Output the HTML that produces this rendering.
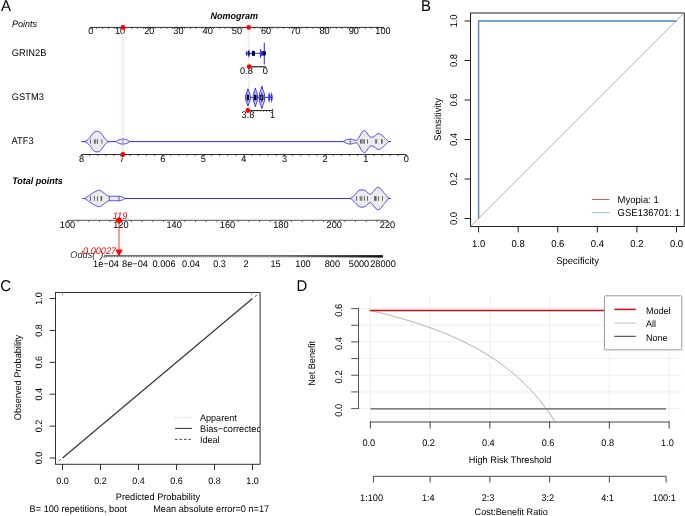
<!DOCTYPE html>
<html><head><meta charset="utf-8"><title>Figure</title>
<style>
html,body{margin:0;padding:0;background:#fff;width:685px;height:516px;overflow:hidden;}
svg{display:block;}
text{font-family:"Liberation Sans",sans-serif;text-rendering:geometricPrecision;}
</style></head><body>
<svg width="685" height="516" viewBox="0 0 685 516">
<g style="will-change:transform">
<rect width="685" height="516" fill="#fff"/>
<text fill="#000" font-size="15" transform="translate(0.9 11) scale(1 1.04)">A</text>
<text font-style="italic" font-weight="bold" fill="#000" font-size="9" transform="translate(210.6 19.3) scale(1 1.04)">Nomogram</text>
<text font-style="italic" font-size="9" transform="translate(12 26.9) scale(1 1.04)">Points</text>
<line x1="90.8" y1="27.4" x2="383" y2="27.4" stroke="#1a1a1a" stroke-width="0.9"/>
<line x1="90.8" y1="27.4" x2="90.8" y2="29.2" stroke="#333" stroke-width="0.8"/>
<line x1="96.64" y1="27.4" x2="96.64" y2="28.9" stroke="#333" stroke-width="0.8"/>
<line x1="102.49" y1="27.4" x2="102.49" y2="28.9" stroke="#333" stroke-width="0.8"/>
<line x1="108.33" y1="27.4" x2="108.33" y2="28.9" stroke="#333" stroke-width="0.8"/>
<line x1="114.18" y1="27.4" x2="114.18" y2="28.9" stroke="#333" stroke-width="0.8"/>
<line x1="120.02" y1="27.4" x2="120.02" y2="29.2" stroke="#333" stroke-width="0.8"/>
<line x1="125.86" y1="27.4" x2="125.86" y2="28.9" stroke="#333" stroke-width="0.8"/>
<line x1="131.71" y1="27.4" x2="131.71" y2="28.9" stroke="#333" stroke-width="0.8"/>
<line x1="137.55" y1="27.4" x2="137.55" y2="28.9" stroke="#333" stroke-width="0.8"/>
<line x1="143.4" y1="27.4" x2="143.4" y2="28.9" stroke="#333" stroke-width="0.8"/>
<line x1="149.24" y1="27.4" x2="149.24" y2="29.2" stroke="#333" stroke-width="0.8"/>
<line x1="155.08" y1="27.4" x2="155.08" y2="28.9" stroke="#333" stroke-width="0.8"/>
<line x1="160.93" y1="27.4" x2="160.93" y2="28.9" stroke="#333" stroke-width="0.8"/>
<line x1="166.77" y1="27.4" x2="166.77" y2="28.9" stroke="#333" stroke-width="0.8"/>
<line x1="172.62" y1="27.4" x2="172.62" y2="28.9" stroke="#333" stroke-width="0.8"/>
<line x1="178.46" y1="27.4" x2="178.46" y2="29.2" stroke="#333" stroke-width="0.8"/>
<line x1="184.3" y1="27.4" x2="184.3" y2="28.9" stroke="#333" stroke-width="0.8"/>
<line x1="190.15" y1="27.4" x2="190.15" y2="28.9" stroke="#333" stroke-width="0.8"/>
<line x1="195.99" y1="27.4" x2="195.99" y2="28.9" stroke="#333" stroke-width="0.8"/>
<line x1="201.84" y1="27.4" x2="201.84" y2="28.9" stroke="#333" stroke-width="0.8"/>
<line x1="207.68" y1="27.4" x2="207.68" y2="29.2" stroke="#333" stroke-width="0.8"/>
<line x1="213.52" y1="27.4" x2="213.52" y2="28.9" stroke="#333" stroke-width="0.8"/>
<line x1="219.37" y1="27.4" x2="219.37" y2="28.9" stroke="#333" stroke-width="0.8"/>
<line x1="225.21" y1="27.4" x2="225.21" y2="28.9" stroke="#333" stroke-width="0.8"/>
<line x1="231.06" y1="27.4" x2="231.06" y2="28.9" stroke="#333" stroke-width="0.8"/>
<line x1="236.9" y1="27.4" x2="236.9" y2="29.2" stroke="#333" stroke-width="0.8"/>
<line x1="242.74" y1="27.4" x2="242.74" y2="28.9" stroke="#333" stroke-width="0.8"/>
<line x1="248.59" y1="27.4" x2="248.59" y2="28.9" stroke="#333" stroke-width="0.8"/>
<line x1="254.43" y1="27.4" x2="254.43" y2="28.9" stroke="#333" stroke-width="0.8"/>
<line x1="260.28" y1="27.4" x2="260.28" y2="28.9" stroke="#333" stroke-width="0.8"/>
<line x1="266.12" y1="27.4" x2="266.12" y2="29.2" stroke="#333" stroke-width="0.8"/>
<line x1="271.96" y1="27.4" x2="271.96" y2="28.9" stroke="#333" stroke-width="0.8"/>
<line x1="277.81" y1="27.4" x2="277.81" y2="28.9" stroke="#333" stroke-width="0.8"/>
<line x1="283.65" y1="27.4" x2="283.65" y2="28.9" stroke="#333" stroke-width="0.8"/>
<line x1="289.5" y1="27.4" x2="289.5" y2="28.9" stroke="#333" stroke-width="0.8"/>
<line x1="295.34" y1="27.4" x2="295.34" y2="29.2" stroke="#333" stroke-width="0.8"/>
<line x1="301.18" y1="27.4" x2="301.18" y2="28.9" stroke="#333" stroke-width="0.8"/>
<line x1="307.03" y1="27.4" x2="307.03" y2="28.9" stroke="#333" stroke-width="0.8"/>
<line x1="312.87" y1="27.4" x2="312.87" y2="28.9" stroke="#333" stroke-width="0.8"/>
<line x1="318.72" y1="27.4" x2="318.72" y2="28.9" stroke="#333" stroke-width="0.8"/>
<line x1="324.56" y1="27.4" x2="324.56" y2="29.2" stroke="#333" stroke-width="0.8"/>
<line x1="330.4" y1="27.4" x2="330.4" y2="28.9" stroke="#333" stroke-width="0.8"/>
<line x1="336.25" y1="27.4" x2="336.25" y2="28.9" stroke="#333" stroke-width="0.8"/>
<line x1="342.09" y1="27.4" x2="342.09" y2="28.9" stroke="#333" stroke-width="0.8"/>
<line x1="347.94" y1="27.4" x2="347.94" y2="28.9" stroke="#333" stroke-width="0.8"/>
<line x1="353.78" y1="27.4" x2="353.78" y2="29.2" stroke="#333" stroke-width="0.8"/>
<line x1="359.62" y1="27.4" x2="359.62" y2="28.9" stroke="#333" stroke-width="0.8"/>
<line x1="365.47" y1="27.4" x2="365.47" y2="28.9" stroke="#333" stroke-width="0.8"/>
<line x1="371.31" y1="27.4" x2="371.31" y2="28.9" stroke="#333" stroke-width="0.8"/>
<line x1="377.16" y1="27.4" x2="377.16" y2="28.9" stroke="#333" stroke-width="0.8"/>
<line x1="383" y1="27.4" x2="383" y2="29.2" stroke="#333" stroke-width="0.8"/>
<text text-anchor="middle" font-size="9.2" transform="translate(90.8 34.3) scale(1 1.04)">0</text>
<text text-anchor="middle" font-size="9.2" transform="translate(120.02 34.3) scale(1 1.04)">10</text>
<text text-anchor="middle" font-size="9.2" transform="translate(149.24 34.3) scale(1 1.04)">20</text>
<text text-anchor="middle" font-size="9.2" transform="translate(178.46 34.3) scale(1 1.04)">30</text>
<text text-anchor="middle" font-size="9.2" transform="translate(207.68 34.3) scale(1 1.04)">40</text>
<text text-anchor="middle" font-size="9.2" transform="translate(236.9 34.3) scale(1 1.04)">50</text>
<text text-anchor="middle" font-size="9.2" transform="translate(266.12 34.3) scale(1 1.04)">60</text>
<text text-anchor="middle" font-size="9.2" transform="translate(295.34 34.3) scale(1 1.04)">70</text>
<text text-anchor="middle" font-size="9.2" transform="translate(324.56 34.3) scale(1 1.04)">80</text>
<text text-anchor="middle" font-size="9.2" transform="translate(353.78 34.3) scale(1 1.04)">90</text>
<text text-anchor="middle" font-size="9.2" transform="translate(383 34.3) scale(1 1.04)">100</text>
<line x1="122.9" y1="29" x2="122.9" y2="152" stroke="#ffcccc" stroke-width="1.5" stroke-dasharray="1,1"/>
<line x1="248.5" y1="29" x2="248.5" y2="108.5" stroke="#ffcccc" stroke-width="1.5" stroke-dasharray="1,1"/>
<text font-size="9.3" transform="translate(11.8 56) scale(1 1.04)">GRIN2B</text>
<line x1="246" y1="53.4" x2="265.8" y2="53.4" stroke="#3232ff" stroke-width="1"/>
<ellipse cx="246.6" cy="53.4" rx="0.9" ry="2.3" fill="#3232ff"/>
<path d="M248.8,49.4 C249.5,51 250,52 250,53.4 C250,54.8 249.5,55.8 248.8,57.6 C248.1,55.8 247.6,54.8 247.6,53.4 C247.6,52 248.1,51 248.8,49.4 Z" fill="#3232ff"/>
<line x1="248.5" y1="51.4" x2="248.5" y2="55.4" stroke="#111" stroke-width="0.8"/>
<line x1="249.3" y1="51.8" x2="249.3" y2="55" stroke="#222" stroke-width="0.6"/>
<rect x="251.9" y="50.8" width="3.1" height="5.1" rx="1.2" fill="#0a0a8a"/>
<line x1="252.6" y1="51.2" x2="252.6" y2="55.6" stroke="#000" stroke-width="0.7"/>
<line x1="254.2" y1="51.2" x2="254.2" y2="55.6" stroke="#000" stroke-width="0.7"/>
<line x1="260.4" y1="49.1" x2="260.4" y2="58" stroke="#3232ff" stroke-width="1"/>
<polygon points="260.4,50.6 263,51.2 263,55.6 260.4,56.4" fill="#3232ff"/>
<rect x="262.8" y="50.8" width="3.1" height="5.0" rx="1.5" fill="#050505"/>
<line x1="264.3" y1="42.8" x2="264.3" y2="64.4" stroke="#3232ff" stroke-width="1.1"/>
<rect x="263.6" y="51.6" width="1.4" height="3.6" fill="#000"/>
<line x1="248.6" y1="66.6" x2="265.4" y2="66.6" stroke="#1a1a1a" stroke-width="0.9"/>
<line x1="248.6" y1="66.6" x2="248.6" y2="67.8" stroke="#333" stroke-width="0.8"/>
<line x1="250.7" y1="66.6" x2="250.7" y2="67.8" stroke="#333" stroke-width="0.8"/>
<line x1="252.8" y1="66.6" x2="252.8" y2="67.8" stroke="#333" stroke-width="0.8"/>
<line x1="254.9" y1="66.6" x2="254.9" y2="67.8" stroke="#333" stroke-width="0.8"/>
<line x1="257" y1="66.6" x2="257" y2="67.8" stroke="#333" stroke-width="0.8"/>
<line x1="259.1" y1="66.6" x2="259.1" y2="67.8" stroke="#333" stroke-width="0.8"/>
<line x1="261.2" y1="66.6" x2="261.2" y2="67.8" stroke="#333" stroke-width="0.8"/>
<line x1="263.3" y1="66.6" x2="263.3" y2="67.8" stroke="#333" stroke-width="0.8"/>
<line x1="265.4" y1="66.6" x2="265.4" y2="67.8" stroke="#333" stroke-width="0.8"/>
<text text-anchor="middle" font-size="9.2" transform="translate(246.4 73.6) scale(1 1.04)">0.8</text>
<text text-anchor="middle" font-size="9.2" transform="translate(265.4 73.6) scale(1 1.04)">0</text>
<text font-size="9.3" transform="translate(11.8 100) scale(1 1.04)">GSTM3</text>
<line x1="245.3" y1="97.4" x2="272.8" y2="97.4" stroke="#3232ff" stroke-width="1"/>
<path d="M247.95,88.8 C248.81,92.67 250.4,93.1 250.4,97.4 C250.4,101.7 248.81,102.13 247.95,106 C247.09,102.13 245.5,101.7 245.5,97.4 C245.5,93.1 247.09,92.67 247.95,88.8 Z" fill="#d2d2ff" stroke="#3232ff" stroke-width="1"/>
<path d="M247.45,92.24 C247.71,94.56 248.19,94.82 248.19,97.4 C248.19,99.98 247.71,100.24 247.45,102.56 C247.19,100.24 246.71,99.98 246.71,97.4 C246.71,94.82 247.19,94.56 247.45,92.24 Z" fill="#3232ff" stroke="none" stroke-width="0"/>
<path d="M248.65,93.53 C248.86,95.27 249.26,95.47 249.26,97.4 C249.26,99.34 248.86,99.53 248.65,101.27 C248.44,99.53 248.04,99.34 248.04,97.4 C248.04,95.47 248.44,95.27 248.65,93.53 Z" fill="#3232ff" stroke="none" stroke-width="0"/>
<path d="M255.35,88 C256.1,92.23 257.5,92.7 257.5,97.4 C257.5,102.1 256.1,102.57 255.35,106.8 C254.6,102.57 253.2,102.1 253.2,97.4 C253.2,92.7 254.6,92.23 255.35,88 Z" fill="#d2d2ff" stroke="#3232ff" stroke-width="1"/>
<path d="M254.85,91.76 C255.08,94.3 255.5,94.58 255.5,97.4 C255.5,100.22 255.08,100.5 254.85,103.04 C254.62,100.5 254.2,100.22 254.2,97.4 C254.2,94.58 254.62,94.3 254.85,91.76 Z" fill="#3232ff" stroke="none" stroke-width="0"/>
<path d="M256.05,93.17 C256.24,95.07 256.59,95.29 256.59,97.4 C256.59,99.52 256.24,99.73 256.05,101.63 C255.86,99.73 255.51,99.52 255.51,97.4 C255.51,95.29 255.86,95.07 256.05,93.17 Z" fill="#3232ff" stroke="none" stroke-width="0"/>
<path d="M261.9,86.2 C262.88,91.24 264.7,91.8 264.7,97.4 C264.7,103 262.88,103.56 261.9,108.6 C260.92,103.56 259.1,103 259.1,97.4 C259.1,91.8 260.92,91.24 261.9,86.2 Z" fill="#d2d2ff" stroke="#3232ff" stroke-width="1"/>
<path d="M261.4,90.68 C261.69,93.7 262.24,94.04 262.24,97.4 C262.24,100.76 261.69,101.1 261.4,104.12 C261.11,101.1 260.56,100.76 260.56,97.4 C260.56,94.04 261.11,93.7 261.4,90.68 Z" fill="#3232ff" stroke="none" stroke-width="0"/>
<path d="M262.6,92.36 C262.84,94.63 263.3,94.88 263.3,97.4 C263.3,99.92 262.84,100.17 262.6,102.44 C262.35,100.17 261.9,99.92 261.9,97.4 C261.9,94.88 262.35,94.63 262.6,92.36 Z" fill="#3232ff" stroke="none" stroke-width="0"/>
<path d="M269.2,91.5 C269.57,94.16 270.25,94.45 270.25,97.4 C270.25,100.35 269.57,100.65 269.2,103.3 C268.83,100.65 268.15,100.35 268.15,97.4 C268.15,94.45 268.83,94.16 269.2,91.5 Z" fill="#3232ff" stroke="none" stroke-width="0"/>
<path d="M271.6,91.5 C271.97,94.16 272.65,94.45 272.65,97.4 C272.65,100.35 271.97,100.65 271.6,103.3 C271.23,100.65 270.55,100.35 270.55,97.4 C270.55,94.45 271.23,94.16 271.6,91.5 Z" fill="#3232ff" stroke="none" stroke-width="0"/>
<rect x="246.8" y="94.8" width="2.2" height="5.4" fill="#111"/>
<rect x="254.1" y="95.0" width="2.3" height="4.9" fill="#050505"/>
<rect x="259.6" y="95.0" width="3.8" height="4.9" fill="#1a1a1a"/>
<rect x="260.6" y="95.8" width="1.6" height="3.3" fill="#666"/>
<line x1="248" y1="110.5" x2="272.6" y2="110.5" stroke="#1a1a1a" stroke-width="0.9"/>
<line x1="248" y1="110.5" x2="248" y2="111.7" stroke="#333" stroke-width="0.8"/>
<line x1="251.07" y1="110.5" x2="251.07" y2="111.7" stroke="#333" stroke-width="0.8"/>
<line x1="254.15" y1="110.5" x2="254.15" y2="111.7" stroke="#333" stroke-width="0.8"/>
<line x1="257.23" y1="110.5" x2="257.23" y2="111.7" stroke="#333" stroke-width="0.8"/>
<line x1="260.3" y1="110.5" x2="260.3" y2="111.7" stroke="#333" stroke-width="0.8"/>
<line x1="263.38" y1="110.5" x2="263.38" y2="111.7" stroke="#333" stroke-width="0.8"/>
<line x1="266.45" y1="110.5" x2="266.45" y2="111.7" stroke="#333" stroke-width="0.8"/>
<line x1="269.53" y1="110.5" x2="269.53" y2="111.7" stroke="#333" stroke-width="0.8"/>
<line x1="272.6" y1="110.5" x2="272.6" y2="111.7" stroke="#333" stroke-width="0.8"/>
<line x1="272.6" y1="108.8" x2="272.6" y2="110.5" stroke="#1a1a1a" stroke-width="0.8"/>
<text text-anchor="middle" font-size="9.2" transform="translate(248 117.6) scale(1 1.04)">3.8</text>
<text text-anchor="middle" font-size="9.2" transform="translate(272.6 117.6) scale(1 1.04)">1</text>
<text font-size="9.3" transform="translate(11.6 144.2) scale(1 1.04)">ATF3</text>
<line x1="81.3" y1="141.6" x2="391" y2="141.6" stroke="#3232ff" stroke-width="1"/>
<polygon points="84,141.6 84.33,141.53 84.66,141.44 84.99,141.32 85.32,141.19 85.66,141.04 85.99,140.87 86.32,140.69 86.65,140.51 86.98,140.31 87.31,140.1 87.64,139.84 87.97,139.56 88.31,139.25 88.64,138.91 88.97,138.56 89.3,138.2 89.63,137.82 89.96,137.44 90.29,137.04 90.62,136.58 90.95,136.09 91.29,135.57 91.62,135.05 91.95,134.54 92.28,134.06 92.61,133.63 92.94,133.26 93.27,132.94 93.6,132.63 93.94,132.34 94.27,132.09 94.6,131.88 94.93,131.72 95.26,131.62 95.59,131.52 95.92,131.44 96.25,131.37 96.58,131.32 96.92,131.3 97.25,131.31 97.58,131.34 97.91,131.4 98.24,131.48 98.57,131.57 98.9,131.67 99.23,131.79 99.56,131.97 99.9,132.21 100.23,132.48 100.56,132.78 100.89,133.09 101.22,133.42 101.55,133.81 101.88,134.24 102.21,134.71 102.55,135.21 102.88,135.71 103.21,136.2 103.54,136.68 103.87,137.13 104.2,137.56 104.53,137.99 104.86,138.43 105.19,138.86 105.53,139.27 105.86,139.64 106.19,139.96 106.52,140.21 106.85,140.43 107.18,140.65 107.51,140.85 107.84,141.04 108.18,141.21 108.51,141.35 108.84,141.47 109.17,141.55 109.5,141.6 109.5,141.6 109.17,141.65 108.84,141.73 108.51,141.85 108.18,141.99 107.84,142.16 107.51,142.35 107.18,142.55 106.85,142.77 106.52,142.99 106.19,143.24 105.86,143.56 105.53,143.93 105.19,144.34 104.86,144.77 104.53,145.21 104.2,145.64 103.87,146.07 103.54,146.52 103.21,147 102.88,147.49 102.55,147.99 102.21,148.49 101.88,148.96 101.55,149.39 101.22,149.78 100.89,150.11 100.56,150.42 100.23,150.72 99.9,150.99 99.56,151.23 99.23,151.41 98.9,151.53 98.57,151.63 98.24,151.72 97.91,151.8 97.58,151.86 97.25,151.89 96.92,151.9 96.58,151.88 96.25,151.83 95.92,151.76 95.59,151.68 95.26,151.58 94.93,151.48 94.6,151.32 94.27,151.11 93.94,150.86 93.6,150.57 93.27,150.26 92.94,149.94 92.61,149.57 92.28,149.14 91.95,148.66 91.62,148.15 91.29,147.63 90.95,147.11 90.62,146.62 90.29,146.16 89.96,145.76 89.63,145.38 89.3,145 88.97,144.64 88.64,144.29 88.31,143.95 87.97,143.64 87.64,143.36 87.31,143.1 86.98,142.89 86.65,142.69 86.32,142.51 85.99,142.33 85.66,142.16 85.32,142.01 84.99,141.88 84.66,141.76 84.33,141.67 84,141.6" fill="#ebebeb" stroke="#3232ff" stroke-width="1" stroke-linejoin="round"/>
<polygon points="116.3,141.6 116.63,141.3 116.95,141 117.28,140.72 117.61,140.46 117.93,140.22 118.26,140.02 118.59,139.85 118.91,139.72 119.24,139.64 119.57,139.56 119.9,139.48 120.22,139.41 120.55,139.34 120.88,139.28 121.2,139.23 121.53,139.19 121.86,139.15 122.18,139.13 122.51,139.11 122.84,139.1 123.16,139.1 123.49,139.12 123.82,139.15 124.14,139.19 124.47,139.24 124.8,139.3 125.12,139.37 125.45,139.44 125.78,139.52 126.1,139.6 126.43,139.68 126.76,139.78 127.09,139.9 127.41,140.05 127.74,140.22 128.07,140.42 128.39,140.63 128.72,140.85 129.05,141.09 129.37,141.34 129.7,141.6 129.7,141.6 129.37,141.86 129.05,142.11 128.72,142.35 128.39,142.57 128.07,142.78 127.74,142.98 127.41,143.15 127.09,143.3 126.76,143.42 126.43,143.52 126.1,143.6 125.78,143.68 125.45,143.76 125.12,143.83 124.8,143.9 124.47,143.96 124.14,144.01 123.82,144.05 123.49,144.08 123.16,144.1 122.84,144.1 122.51,144.09 122.18,144.07 121.86,144.05 121.53,144.01 121.2,143.97 120.88,143.92 120.55,143.86 120.22,143.79 119.9,143.72 119.57,143.64 119.24,143.56 118.91,143.48 118.59,143.35 118.26,143.18 117.93,142.98 117.61,142.74 117.28,142.48 116.95,142.2 116.63,141.9 116.3,141.6" fill="#ebebeb" stroke="#3232ff" stroke-width="1" stroke-linejoin="round"/>
<polygon points="343.7,141.6 344.03,141.35 344.37,141.1 344.7,140.87 345.03,140.64 345.36,140.44 345.7,140.25 346.03,140.07 346.36,139.92 346.69,139.8 347.03,139.69 347.36,139.6 347.69,139.51 348.02,139.43 348.36,139.35 348.69,139.28 349.02,139.22 349.35,139.17 349.69,139.13 350.02,139.11 350.35,139.1 350.68,139.12 351.02,139.16 351.35,139.23 351.68,139.31 352.01,139.4 352.35,139.49 352.68,139.59 353.01,139.68 353.35,139.76 353.68,139.84 354.01,139.93 354.34,140.02 354.68,140.11 355.01,140.2 355.34,140.28 355.67,140.35 356.01,140.39 356.34,140.4 356.67,140.31 357,140.08 357.34,139.75 357.67,139.34 358,138.87 358.33,138.37 358.67,137.88 359,137.4 359.33,136.89 359.66,136.3 360,135.66 360.33,135 360.66,134.36 360.99,133.76 361.33,133.23 361.66,132.8 361.99,132.36 362.33,131.93 362.66,131.51 362.99,131.14 363.32,130.83 363.66,130.62 363.99,130.51 364.32,130.52 364.65,130.64 364.99,130.83 365.32,131.08 365.65,131.38 365.98,131.7 366.32,132.02 366.65,132.35 366.98,132.78 367.31,133.29 367.65,133.84 367.98,134.4 368.31,134.94 368.64,135.41 368.98,135.78 369.31,136.08 369.64,136.38 369.97,136.67 370.31,136.92 370.64,137.12 370.97,137.25 371.31,137.3 371.64,137.28 371.97,137.23 372.3,137.15 372.64,137.05 372.97,136.93 373.3,136.8 373.63,136.66 373.97,136.52 374.3,136.33 374.63,136.07 374.96,135.75 375.3,135.41 375.63,135.08 375.96,134.77 376.29,134.52 376.63,134.34 376.96,134.18 377.29,134.03 377.62,133.89 377.96,133.77 378.29,133.67 378.62,133.62 378.95,133.6 379.29,133.65 379.62,133.78 379.95,133.94 380.29,134.15 380.62,134.36 380.95,134.57 381.28,134.78 381.62,135.01 381.95,135.27 382.28,135.55 382.61,135.84 382.95,136.14 383.28,136.45 383.61,136.77 383.94,137.08 384.28,137.39 384.61,137.7 384.94,138.01 385.27,138.31 385.61,138.63 385.94,138.94 386.27,139.26 386.6,139.59 386.94,139.91 387.27,140.24 387.6,140.58 387.93,140.92 388.27,141.26 388.6,141.6 388.6,141.6 388.27,141.94 387.93,142.28 387.6,142.62 387.27,142.96 386.94,143.29 386.6,143.61 386.27,143.94 385.94,144.26 385.61,144.57 385.27,144.89 384.94,145.19 384.61,145.5 384.28,145.81 383.94,146.12 383.61,146.43 383.28,146.75 382.95,147.06 382.61,147.36 382.28,147.65 381.95,147.93 381.62,148.19 381.28,148.42 380.95,148.63 380.62,148.84 380.29,149.05 379.95,149.26 379.62,149.42 379.29,149.55 378.95,149.6 378.62,149.58 378.29,149.53 377.96,149.43 377.62,149.31 377.29,149.17 376.96,149.02 376.63,148.86 376.29,148.68 375.96,148.43 375.63,148.12 375.3,147.79 374.96,147.45 374.63,147.13 374.3,146.87 373.97,146.68 373.63,146.54 373.3,146.4 372.97,146.27 372.64,146.15 372.3,146.05 371.97,145.97 371.64,145.92 371.31,145.9 370.97,145.95 370.64,146.08 370.31,146.28 369.97,146.53 369.64,146.82 369.31,147.12 368.98,147.42 368.64,147.79 368.31,148.26 367.98,148.8 367.65,149.36 367.31,149.91 366.98,150.42 366.65,150.85 366.32,151.18 365.98,151.5 365.65,151.82 365.32,152.12 364.99,152.37 364.65,152.56 364.32,152.68 363.99,152.69 363.66,152.58 363.32,152.37 362.99,152.06 362.66,151.69 362.33,151.27 361.99,150.84 361.66,150.4 361.33,149.97 360.99,149.44 360.66,148.84 360.33,148.2 360,147.54 359.66,146.9 359.33,146.31 359,145.8 358.67,145.32 358.33,144.83 358,144.33 357.67,143.86 357.34,143.45 357,143.12 356.67,142.89 356.34,142.8 356.01,142.81 355.67,142.85 355.34,142.92 355.01,143 354.68,143.09 354.34,143.18 354.01,143.27 353.68,143.36 353.35,143.44 353.01,143.52 352.68,143.61 352.35,143.71 352.01,143.8 351.68,143.89 351.35,143.97 351.02,144.04 350.68,144.08 350.35,144.1 350.02,144.09 349.69,144.07 349.35,144.03 349.02,143.98 348.69,143.92 348.36,143.85 348.02,143.77 347.69,143.69 347.36,143.6 347.03,143.51 346.69,143.4 346.36,143.28 346.03,143.13 345.7,142.95 345.36,142.76 345.03,142.56 344.7,142.33 344.37,142.1 344.03,141.85 343.7,141.6" fill="#ebebeb" stroke="#3232ff" stroke-width="1" stroke-linejoin="round"/>
<line x1="122.9" y1="139.6" x2="122.9" y2="143.6" stroke="#999" stroke-width="1"/>
<line x1="90.5" y1="139.3" x2="90.5" y2="143.7" stroke="#444" stroke-width="0.8"/>
<line x1="94.4" y1="139.3" x2="94.4" y2="143.7" stroke="#444" stroke-width="0.8"/>
<line x1="95.7" y1="139.3" x2="95.7" y2="143.7" stroke="#444" stroke-width="0.8"/>
<line x1="97.5" y1="139.3" x2="97.5" y2="143.7" stroke="#444" stroke-width="0.8"/>
<line x1="101.9" y1="139.3" x2="101.9" y2="143.7" stroke="#444" stroke-width="0.8"/>
<line x1="350.3" y1="139.3" x2="350.3" y2="143.7" stroke="#444" stroke-width="0.8"/>
<line x1="360.5" y1="139.3" x2="360.5" y2="143.7" stroke="#444" stroke-width="0.8"/>
<line x1="361.8" y1="139.3" x2="361.8" y2="143.7" stroke="#444" stroke-width="0.8"/>
<line x1="363.1" y1="139.3" x2="363.1" y2="143.7" stroke="#444" stroke-width="0.8"/>
<line x1="364.4" y1="139.3" x2="364.4" y2="143.7" stroke="#444" stroke-width="0.8"/>
<line x1="367.5" y1="139.3" x2="367.5" y2="143.7" stroke="#444" stroke-width="0.8"/>
<line x1="375.7" y1="139.3" x2="375.7" y2="143.7" stroke="#444" stroke-width="0.8"/>
<line x1="376.7" y1="139.3" x2="376.7" y2="143.7" stroke="#444" stroke-width="0.8"/>
<line x1="381.5" y1="139.3" x2="381.5" y2="143.7" stroke="#444" stroke-width="0.8"/>
<line x1="382.2" y1="139.3" x2="382.2" y2="143.7" stroke="#444" stroke-width="0.8"/>
<line x1="81.5" y1="154.5" x2="406.3" y2="154.5" stroke="#1a1a1a" stroke-width="0.9"/>
<line x1="81.5" y1="154.5" x2="81.5" y2="156.4" stroke="#333" stroke-width="0.8"/>
<line x1="89.62" y1="154.5" x2="89.62" y2="156" stroke="#333" stroke-width="0.8"/>
<line x1="97.74" y1="154.5" x2="97.74" y2="156" stroke="#333" stroke-width="0.8"/>
<line x1="105.86" y1="154.5" x2="105.86" y2="156" stroke="#333" stroke-width="0.8"/>
<line x1="113.98" y1="154.5" x2="113.98" y2="156" stroke="#333" stroke-width="0.8"/>
<line x1="122.1" y1="154.5" x2="122.1" y2="156.4" stroke="#333" stroke-width="0.8"/>
<line x1="130.22" y1="154.5" x2="130.22" y2="156" stroke="#333" stroke-width="0.8"/>
<line x1="138.34" y1="154.5" x2="138.34" y2="156" stroke="#333" stroke-width="0.8"/>
<line x1="146.46" y1="154.5" x2="146.46" y2="156" stroke="#333" stroke-width="0.8"/>
<line x1="154.58" y1="154.5" x2="154.58" y2="156" stroke="#333" stroke-width="0.8"/>
<line x1="162.7" y1="154.5" x2="162.7" y2="156.4" stroke="#333" stroke-width="0.8"/>
<line x1="170.82" y1="154.5" x2="170.82" y2="156" stroke="#333" stroke-width="0.8"/>
<line x1="178.94" y1="154.5" x2="178.94" y2="156" stroke="#333" stroke-width="0.8"/>
<line x1="187.06" y1="154.5" x2="187.06" y2="156" stroke="#333" stroke-width="0.8"/>
<line x1="195.18" y1="154.5" x2="195.18" y2="156" stroke="#333" stroke-width="0.8"/>
<line x1="203.3" y1="154.5" x2="203.3" y2="156.4" stroke="#333" stroke-width="0.8"/>
<line x1="211.42" y1="154.5" x2="211.42" y2="156" stroke="#333" stroke-width="0.8"/>
<line x1="219.54" y1="154.5" x2="219.54" y2="156" stroke="#333" stroke-width="0.8"/>
<line x1="227.66" y1="154.5" x2="227.66" y2="156" stroke="#333" stroke-width="0.8"/>
<line x1="235.78" y1="154.5" x2="235.78" y2="156" stroke="#333" stroke-width="0.8"/>
<line x1="243.9" y1="154.5" x2="243.9" y2="156.4" stroke="#333" stroke-width="0.8"/>
<line x1="252.02" y1="154.5" x2="252.02" y2="156" stroke="#333" stroke-width="0.8"/>
<line x1="260.14" y1="154.5" x2="260.14" y2="156" stroke="#333" stroke-width="0.8"/>
<line x1="268.26" y1="154.5" x2="268.26" y2="156" stroke="#333" stroke-width="0.8"/>
<line x1="276.38" y1="154.5" x2="276.38" y2="156" stroke="#333" stroke-width="0.8"/>
<line x1="284.5" y1="154.5" x2="284.5" y2="156.4" stroke="#333" stroke-width="0.8"/>
<line x1="292.62" y1="154.5" x2="292.62" y2="156" stroke="#333" stroke-width="0.8"/>
<line x1="300.74" y1="154.5" x2="300.74" y2="156" stroke="#333" stroke-width="0.8"/>
<line x1="308.86" y1="154.5" x2="308.86" y2="156" stroke="#333" stroke-width="0.8"/>
<line x1="316.98" y1="154.5" x2="316.98" y2="156" stroke="#333" stroke-width="0.8"/>
<line x1="325.1" y1="154.5" x2="325.1" y2="156.4" stroke="#333" stroke-width="0.8"/>
<line x1="333.22" y1="154.5" x2="333.22" y2="156" stroke="#333" stroke-width="0.8"/>
<line x1="341.34" y1="154.5" x2="341.34" y2="156" stroke="#333" stroke-width="0.8"/>
<line x1="349.46" y1="154.5" x2="349.46" y2="156" stroke="#333" stroke-width="0.8"/>
<line x1="357.58" y1="154.5" x2="357.58" y2="156" stroke="#333" stroke-width="0.8"/>
<line x1="365.7" y1="154.5" x2="365.7" y2="156.4" stroke="#333" stroke-width="0.8"/>
<line x1="373.82" y1="154.5" x2="373.82" y2="156" stroke="#333" stroke-width="0.8"/>
<line x1="381.94" y1="154.5" x2="381.94" y2="156" stroke="#333" stroke-width="0.8"/>
<line x1="390.06" y1="154.5" x2="390.06" y2="156" stroke="#333" stroke-width="0.8"/>
<line x1="398.18" y1="154.5" x2="398.18" y2="156" stroke="#333" stroke-width="0.8"/>
<line x1="406.3" y1="154.5" x2="406.3" y2="156.4" stroke="#333" stroke-width="0.8"/>
<text text-anchor="middle" font-size="9.2" transform="translate(406.3 161.6) scale(1 1.04)">0</text>
<text text-anchor="middle" font-size="9.2" transform="translate(365.7 161.6) scale(1 1.04)">1</text>
<text text-anchor="middle" font-size="9.2" transform="translate(325.1 161.6) scale(1 1.04)">2</text>
<text text-anchor="middle" font-size="9.2" transform="translate(284.5 161.6) scale(1 1.04)">3</text>
<text text-anchor="middle" font-size="9.2" transform="translate(243.9 161.6) scale(1 1.04)">4</text>
<text text-anchor="middle" font-size="9.2" transform="translate(203.3 161.6) scale(1 1.04)">5</text>
<text text-anchor="middle" font-size="9.2" transform="translate(162.7 161.6) scale(1 1.04)">6</text>
<text text-anchor="middle" font-size="9.2" transform="translate(122.1 161.6) scale(1 1.04)">7</text>
<text text-anchor="middle" font-size="9.2" transform="translate(81.5 161.6) scale(1 1.04)">8</text>
<text font-style="italic" font-weight="bold" fill="#000" font-size="9" transform="translate(12.2 183.6) scale(1 1.04)">Total points</text>
<line x1="82.1" y1="198.5" x2="391" y2="198.5" stroke="#3232ff" stroke-width="1"/>
<polygon points="84.4,198.5 84.73,198.32 85.07,198.14 85.4,197.95 85.73,197.76 86.06,197.57 86.4,197.37 86.73,197.17 87.06,196.96 87.4,196.75 87.73,196.52 88.06,196.29 88.39,196.06 88.73,195.82 89.06,195.58 89.39,195.34 89.72,195.1 90.06,194.86 90.39,194.62 90.72,194.39 91.06,194.16 91.39,193.93 91.72,193.7 92.05,193.46 92.39,193.23 92.72,192.99 93.05,192.76 93.39,192.53 93.72,192.32 94.05,192.11 94.38,191.92 94.72,191.74 95.05,191.58 95.38,191.43 95.71,191.28 96.05,191.14 96.38,191.01 96.71,190.89 97.05,190.78 97.38,190.67 97.71,190.58 98.04,190.49 98.38,190.4 98.71,190.33 99.04,190.3 99.38,190.34 99.71,190.42 100.04,190.51 100.37,190.63 100.71,190.78 101.04,190.97 101.37,191.17 101.7,191.4 102.04,191.63 102.37,191.86 102.7,192.1 103.04,192.32 103.37,192.55 103.7,192.79 104.03,193.04 104.37,193.3 104.7,193.55 105.03,193.81 105.37,194.05 105.7,194.29 106.03,194.52 106.36,194.76 106.7,195.01 107.03,195.26 107.36,195.51 107.7,195.74 108.03,195.93 108.36,196.08 108.69,196.18 109.03,196.23 109.36,196.27 109.69,196.29 110.02,196.3 110.36,196.3 110.69,196.3 111.02,196.3 111.36,196.3 111.69,196.3 112.02,196.3 112.35,196.3 112.69,196.3 113.02,196.3 113.35,196.3 113.69,196.3 114.02,196.3 114.35,196.3 114.68,196.3 115.02,196.3 115.35,196.3 115.68,196.3 116.01,196.3 116.35,196.3 116.68,196.3 117.01,196.3 117.35,196.3 117.68,196.3 118.01,196.3 118.34,196.3 118.68,196.3 119.01,196.3 119.34,196.3 119.68,196.3 120.01,196.34 120.34,196.4 120.67,196.47 121.01,196.56 121.34,196.66 121.67,196.75 122,196.86 122.34,196.99 122.67,197.13 123,197.28 123.34,197.45 123.67,197.64 124,197.84 124.33,198.05 124.67,198.27 125,198.5 125,198.5 124.67,198.73 124.33,198.95 124,199.16 123.67,199.36 123.34,199.55 123,199.72 122.67,199.87 122.34,200.01 122,200.14 121.67,200.25 121.34,200.34 121.01,200.44 120.67,200.53 120.34,200.6 120.01,200.66 119.68,200.7 119.34,200.7 119.01,200.7 118.68,200.7 118.34,200.7 118.01,200.7 117.68,200.7 117.35,200.7 117.01,200.7 116.68,200.7 116.35,200.7 116.01,200.7 115.68,200.7 115.35,200.7 115.02,200.7 114.68,200.7 114.35,200.7 114.02,200.7 113.69,200.7 113.35,200.7 113.02,200.7 112.69,200.7 112.35,200.7 112.02,200.7 111.69,200.7 111.36,200.7 111.02,200.7 110.69,200.7 110.36,200.7 110.02,200.7 109.69,200.71 109.36,200.73 109.03,200.77 108.69,200.82 108.36,200.92 108.03,201.07 107.7,201.26 107.36,201.49 107.03,201.74 106.7,201.99 106.36,202.24 106.03,202.48 105.7,202.71 105.37,202.95 105.03,203.19 104.7,203.45 104.37,203.7 104.03,203.96 103.7,204.21 103.37,204.45 103.04,204.68 102.7,204.9 102.37,205.14 102.04,205.37 101.7,205.6 101.37,205.83 101.04,206.03 100.71,206.22 100.37,206.37 100.04,206.49 99.71,206.58 99.38,206.66 99.04,206.7 98.71,206.67 98.38,206.6 98.04,206.51 97.71,206.42 97.38,206.33 97.05,206.22 96.71,206.11 96.38,205.99 96.05,205.86 95.71,205.72 95.38,205.57 95.05,205.42 94.72,205.26 94.38,205.08 94.05,204.89 93.72,204.68 93.39,204.47 93.05,204.24 92.72,204.01 92.39,203.77 92.05,203.54 91.72,203.3 91.39,203.07 91.06,202.84 90.72,202.61 90.39,202.38 90.06,202.14 89.72,201.9 89.39,201.66 89.06,201.42 88.73,201.18 88.39,200.94 88.06,200.71 87.73,200.48 87.4,200.25 87.06,200.04 86.73,199.83 86.4,199.63 86.06,199.43 85.73,199.24 85.4,199.05 85.07,198.86 84.73,198.68 84.4,198.5" fill="#ebebeb" stroke="#3232ff" stroke-width="1" stroke-linejoin="round"/>
<polygon points="350.1,198.5 350.43,198.34 350.76,198.16 351.1,197.96 351.43,197.75 351.76,197.53 352.09,197.29 352.42,197.05 352.76,196.79 353.09,196.53 353.42,196.24 353.75,195.92 354.08,195.58 354.41,195.22 354.75,194.86 355.08,194.49 355.41,194.12 355.74,193.77 356.07,193.42 356.41,193.06 356.74,192.67 357.07,192.27 357.4,191.87 357.73,191.5 358.07,191.16 358.4,190.86 358.73,190.63 359.06,190.48 359.39,190.35 359.73,190.24 360.06,190.13 360.39,190.04 360.72,189.95 361.05,189.89 361.38,189.84 361.72,189.81 362.05,189.8 362.38,189.82 362.71,189.85 363.04,189.91 363.38,189.98 363.71,190.07 364.04,190.17 364.37,190.28 364.7,190.39 365.04,190.51 365.37,190.69 365.7,190.94 366.03,191.23 366.36,191.57 366.69,191.91 367.03,192.25 367.36,192.56 367.69,192.83 368.02,193.05 368.35,193.28 368.69,193.51 369.02,193.73 369.35,193.92 369.68,194.08 370.01,194.17 370.35,194.2 370.68,194.12 371.01,193.94 371.34,193.68 371.67,193.36 372.01,193 372.34,192.62 372.67,192.25 373,191.9 373.33,191.54 373.66,191.12 374,190.68 374.33,190.22 374.66,189.76 374.99,189.32 375.32,188.92 375.66,188.58 375.99,188.31 376.32,188.08 376.65,187.86 376.98,187.66 377.32,187.49 377.65,187.37 377.98,187.31 378.31,187.31 378.64,187.39 378.98,187.52 379.31,187.69 379.64,187.88 379.97,188.08 380.3,188.32 380.63,188.63 380.97,189 381.3,189.42 381.63,189.87 381.96,190.33 382.29,190.79 382.63,191.24 382.96,191.65 383.29,192.03 383.62,192.4 383.95,192.76 384.29,193.13 384.62,193.49 384.95,193.86 385.28,194.24 385.61,194.64 385.94,195.04 386.28,195.45 386.61,195.86 386.94,196.29 387.27,196.72 387.6,197.15 387.94,197.59 388.27,198.04 388.6,198.5 388.6,198.5 388.27,198.96 387.94,199.41 387.6,199.85 387.27,200.28 386.94,200.71 386.61,201.14 386.28,201.55 385.94,201.96 385.61,202.36 385.28,202.76 384.95,203.14 384.62,203.51 384.29,203.87 383.95,204.24 383.62,204.6 383.29,204.97 382.96,205.35 382.63,205.76 382.29,206.21 381.96,206.67 381.63,207.13 381.3,207.58 380.97,208 380.63,208.37 380.3,208.68 379.97,208.92 379.64,209.12 379.31,209.31 378.98,209.48 378.64,209.61 378.31,209.69 377.98,209.69 377.65,209.63 377.32,209.51 376.98,209.34 376.65,209.14 376.32,208.92 375.99,208.69 375.66,208.42 375.32,208.08 374.99,207.68 374.66,207.24 374.33,206.78 374,206.32 373.66,205.88 373.33,205.46 373,205.1 372.67,204.75 372.34,204.38 372.01,204 371.67,203.64 371.34,203.32 371.01,203.06 370.68,202.88 370.35,202.8 370.01,202.83 369.68,202.92 369.35,203.08 369.02,203.27 368.69,203.49 368.35,203.72 368.02,203.95 367.69,204.17 367.36,204.44 367.03,204.75 366.69,205.09 366.36,205.43 366.03,205.77 365.7,206.06 365.37,206.31 365.04,206.49 364.7,206.61 364.37,206.72 364.04,206.83 363.71,206.93 363.38,207.02 363.04,207.09 362.71,207.15 362.38,207.18 362.05,207.2 361.72,207.19 361.38,207.16 361.05,207.11 360.72,207.05 360.39,206.96 360.06,206.87 359.73,206.76 359.39,206.65 359.06,206.52 358.73,206.37 358.4,206.14 358.07,205.84 357.73,205.5 357.4,205.13 357.07,204.73 356.74,204.33 356.41,203.94 356.07,203.58 355.74,203.23 355.41,202.88 355.08,202.51 354.75,202.14 354.41,201.78 354.08,201.42 353.75,201.08 353.42,200.76 353.09,200.47 352.76,200.21 352.42,199.95 352.09,199.71 351.76,199.47 351.43,199.25 351.1,199.04 350.76,198.84 350.43,198.66 350.1,198.5" fill="#ebebeb" stroke="#3232ff" stroke-width="1" stroke-linejoin="round"/>
<line x1="90.5" y1="196.2" x2="90.5" y2="200.8" stroke="#444" stroke-width="0.8"/>
<line x1="94.4" y1="196.2" x2="94.4" y2="200.8" stroke="#444" stroke-width="0.8"/>
<line x1="97.5" y1="196.2" x2="97.5" y2="200.8" stroke="#444" stroke-width="0.8"/>
<line x1="101" y1="196.2" x2="101" y2="200.8" stroke="#444" stroke-width="0.8"/>
<line x1="101.6" y1="196.2" x2="101.6" y2="200.8" stroke="#444" stroke-width="0.8"/>
<line x1="109.3" y1="196.2" x2="109.3" y2="200.8" stroke="#444" stroke-width="0.8"/>
<line x1="119" y1="196.2" x2="119" y2="200.8" stroke="#444" stroke-width="0.8"/>
<line x1="356.5" y1="196.2" x2="356.5" y2="200.8" stroke="#444" stroke-width="0.8"/>
<line x1="360.3" y1="196.2" x2="360.3" y2="200.8" stroke="#444" stroke-width="0.8"/>
<line x1="361.8" y1="196.2" x2="361.8" y2="200.8" stroke="#444" stroke-width="0.8"/>
<line x1="364.4" y1="196.2" x2="364.4" y2="200.8" stroke="#444" stroke-width="0.8"/>
<line x1="367.5" y1="196.2" x2="367.5" y2="200.8" stroke="#444" stroke-width="0.8"/>
<line x1="374.6" y1="196.2" x2="374.6" y2="200.8" stroke="#444" stroke-width="0.8"/>
<line x1="375.4" y1="196.2" x2="375.4" y2="200.8" stroke="#444" stroke-width="0.8"/>
<line x1="376.1" y1="196.2" x2="376.1" y2="200.8" stroke="#444" stroke-width="0.8"/>
<line x1="378.4" y1="196.2" x2="378.4" y2="200.8" stroke="#444" stroke-width="0.8"/>
<line x1="382.5" y1="196.2" x2="382.5" y2="200.8" stroke="#444" stroke-width="0.8"/>
<line x1="67.5" y1="220.3" x2="387.54" y2="220.3" stroke="#555" stroke-width="1"/>
<line x1="67.5" y1="220.4" x2="67.5" y2="222.2" stroke="#333" stroke-width="0.8"/>
<line x1="78.17" y1="220.4" x2="78.17" y2="221.9" stroke="#333" stroke-width="0.8"/>
<line x1="88.84" y1="220.4" x2="88.84" y2="221.9" stroke="#333" stroke-width="0.8"/>
<line x1="99.5" y1="220.4" x2="99.5" y2="221.9" stroke="#333" stroke-width="0.8"/>
<line x1="110.17" y1="220.4" x2="110.17" y2="221.9" stroke="#333" stroke-width="0.8"/>
<line x1="120.84" y1="220.4" x2="120.84" y2="222.2" stroke="#333" stroke-width="0.8"/>
<line x1="131.51" y1="220.4" x2="131.51" y2="221.9" stroke="#333" stroke-width="0.8"/>
<line x1="142.18" y1="220.4" x2="142.18" y2="221.9" stroke="#333" stroke-width="0.8"/>
<line x1="152.84" y1="220.4" x2="152.84" y2="221.9" stroke="#333" stroke-width="0.8"/>
<line x1="163.51" y1="220.4" x2="163.51" y2="221.9" stroke="#333" stroke-width="0.8"/>
<line x1="174.18" y1="220.4" x2="174.18" y2="222.2" stroke="#333" stroke-width="0.8"/>
<line x1="184.85" y1="220.4" x2="184.85" y2="221.9" stroke="#333" stroke-width="0.8"/>
<line x1="195.52" y1="220.4" x2="195.52" y2="221.9" stroke="#333" stroke-width="0.8"/>
<line x1="206.18" y1="220.4" x2="206.18" y2="221.9" stroke="#333" stroke-width="0.8"/>
<line x1="216.85" y1="220.4" x2="216.85" y2="221.9" stroke="#333" stroke-width="0.8"/>
<line x1="227.52" y1="220.4" x2="227.52" y2="222.2" stroke="#333" stroke-width="0.8"/>
<line x1="238.19" y1="220.4" x2="238.19" y2="221.9" stroke="#333" stroke-width="0.8"/>
<line x1="248.86" y1="220.4" x2="248.86" y2="221.9" stroke="#333" stroke-width="0.8"/>
<line x1="259.52" y1="220.4" x2="259.52" y2="221.9" stroke="#333" stroke-width="0.8"/>
<line x1="270.19" y1="220.4" x2="270.19" y2="221.9" stroke="#333" stroke-width="0.8"/>
<line x1="280.86" y1="220.4" x2="280.86" y2="222.2" stroke="#333" stroke-width="0.8"/>
<line x1="291.53" y1="220.4" x2="291.53" y2="221.9" stroke="#333" stroke-width="0.8"/>
<line x1="302.2" y1="220.4" x2="302.2" y2="221.9" stroke="#333" stroke-width="0.8"/>
<line x1="312.86" y1="220.4" x2="312.86" y2="221.9" stroke="#333" stroke-width="0.8"/>
<line x1="323.53" y1="220.4" x2="323.53" y2="221.9" stroke="#333" stroke-width="0.8"/>
<line x1="334.2" y1="220.4" x2="334.2" y2="222.2" stroke="#333" stroke-width="0.8"/>
<line x1="344.87" y1="220.4" x2="344.87" y2="221.9" stroke="#333" stroke-width="0.8"/>
<line x1="355.54" y1="220.4" x2="355.54" y2="221.9" stroke="#333" stroke-width="0.8"/>
<line x1="366.2" y1="220.4" x2="366.2" y2="221.9" stroke="#333" stroke-width="0.8"/>
<line x1="376.87" y1="220.4" x2="376.87" y2="221.9" stroke="#333" stroke-width="0.8"/>
<line x1="387.54" y1="220.4" x2="387.54" y2="222.2" stroke="#333" stroke-width="0.8"/>
<text text-anchor="middle" font-size="9.2" transform="translate(67.5 228) scale(1 1.04)">100</text>
<text text-anchor="middle" font-size="9.2" transform="translate(120.84 228) scale(1 1.04)">120</text>
<text text-anchor="middle" font-size="9.2" transform="translate(174.18 228) scale(1 1.04)">140</text>
<text text-anchor="middle" font-size="9.2" transform="translate(227.52 228) scale(1 1.04)">160</text>
<text text-anchor="middle" font-size="9.2" transform="translate(280.86 228) scale(1 1.04)">180</text>
<text text-anchor="middle" font-size="9.2" transform="translate(334.2 228) scale(1 1.04)">200</text>
<text text-anchor="middle" font-size="9.2" transform="translate(387.54 228) scale(1 1.04)">220</text>
<circle cx="122.9" cy="27.4" r="2.4" fill="#ff0000"/>
<circle cx="248.7" cy="27.4" r="2.4" fill="#ff0000"/>
<circle cx="249.2" cy="66.6" r="2.4" fill="#ff0000"/>
<circle cx="247.9" cy="110.5" r="2.4" fill="#ff0000"/>
<circle cx="122.9" cy="154.5" r="2.4" fill="#ff0000"/>
<polygon points="119,216.8 122.7,220.5 119,224.2 115.3,220.5" fill="#ff0000"/>
<text text-anchor="middle" font-style="italic" fill="#ff0000" font-size="9.2" transform="translate(120 219) scale(1 1.04)">119</text>
<line x1="119" y1="220.4" x2="119" y2="250" stroke="#ff2020" stroke-width="0.9"/>
<polygon points="115.3,249.6 122.7,249.6 119,256.6" fill="#ff0000"/>
<text font-style="italic" fill="#333" font-size="9.2" transform="translate(70.3 257.9) scale(1 1.04)">Odds(</text>
<text font-style="italic" fill="#333" font-size="9.2" transform="translate(100.3 257.9) scale(1 1.04)">)</text>
<text text-anchor="end" font-style="italic" fill="#ff0000" font-size="9.2" transform="translate(116.2 253.7) scale(1 1.04)">0.00027</text>
<line x1="104.1" y1="255.9" x2="382.8" y2="255.9" stroke="#1a1a1a" stroke-width="1"/>
<line x1="104.1" y1="255.9" x2="104.1" y2="258" stroke="#444" stroke-width="0.8"/>
<text text-anchor="middle" font-size="9.2" transform="translate(106 267.3) scale(1 1.04)">1e−04</text>
<text text-anchor="middle" font-size="9.2" transform="translate(135 267.3) scale(1 1.04)">8e−04</text>
<text text-anchor="middle" font-size="9.2" transform="translate(164 267.3) scale(1 1.04)">0.006</text>
<text text-anchor="middle" font-size="9.2" transform="translate(191 267.3) scale(1 1.04)">0.04</text>
<text text-anchor="middle" font-size="9.2" transform="translate(219.6 267.3) scale(1 1.04)">0.3</text>
<text text-anchor="middle" font-size="9.2" transform="translate(246 267.3) scale(1 1.04)">2</text>
<text text-anchor="middle" font-size="9.2" transform="translate(275.6 267.3) scale(1 1.04)">15</text>
<text text-anchor="middle" font-size="9.2" transform="translate(303 267.3) scale(1 1.04)">100</text>
<text text-anchor="middle" font-size="9.2" transform="translate(332.4 267.3) scale(1 1.04)">800</text>
<text text-anchor="middle" font-size="9.2" transform="translate(359 267.3) scale(1 1.04)">5000</text>
<text text-anchor="middle" font-size="9.2" transform="translate(383 267.3) scale(1 1.04)">28000</text>
<line x1="106" y1="255.9" x2="106" y2="257.5" stroke="#666" stroke-width="0.7"/>
<line x1="108.88" y1="255.9" x2="108.88" y2="257.5" stroke="#666" stroke-width="0.7"/>
<line x1="111.75" y1="255.9" x2="111.75" y2="257.5" stroke="#666" stroke-width="0.7"/>
<line x1="114.59" y1="255.9" x2="114.59" y2="257.5" stroke="#666" stroke-width="0.7"/>
<line x1="117.41" y1="255.9" x2="117.41" y2="257.5" stroke="#666" stroke-width="0.7"/>
<line x1="120.21" y1="255.9" x2="120.21" y2="257.5" stroke="#666" stroke-width="0.7"/>
<line x1="122.98" y1="255.9" x2="122.98" y2="257.5" stroke="#666" stroke-width="0.7"/>
<line x1="125.74" y1="255.9" x2="125.74" y2="257.5" stroke="#666" stroke-width="0.7"/>
<line x1="128.47" y1="255.9" x2="128.47" y2="257.5" stroke="#666" stroke-width="0.7"/>
<line x1="131.19" y1="255.9" x2="131.19" y2="257.5" stroke="#666" stroke-width="0.7"/>
<line x1="133.88" y1="255.9" x2="133.88" y2="257.5" stroke="#666" stroke-width="0.7"/>
<line x1="136.55" y1="255.9" x2="136.55" y2="257.5" stroke="#666" stroke-width="0.7"/>
<line x1="139.21" y1="255.9" x2="139.21" y2="257.5" stroke="#666" stroke-width="0.7"/>
<line x1="141.84" y1="255.9" x2="141.84" y2="257.5" stroke="#666" stroke-width="0.7"/>
<line x1="144.45" y1="255.9" x2="144.45" y2="257.5" stroke="#666" stroke-width="0.7"/>
<line x1="147.04" y1="255.9" x2="147.04" y2="257.5" stroke="#666" stroke-width="0.7"/>
<line x1="149.62" y1="255.9" x2="149.62" y2="257.5" stroke="#666" stroke-width="0.7"/>
<line x1="152.17" y1="255.9" x2="152.17" y2="257.5" stroke="#666" stroke-width="0.7"/>
<line x1="154.7" y1="255.9" x2="154.7" y2="257.5" stroke="#666" stroke-width="0.7"/>
<line x1="157.22" y1="255.9" x2="157.22" y2="257.5" stroke="#666" stroke-width="0.7"/>
<line x1="159.71" y1="255.9" x2="159.71" y2="257.5" stroke="#666" stroke-width="0.7"/>
<line x1="162.19" y1="255.9" x2="162.19" y2="257.5" stroke="#666" stroke-width="0.7"/>
<line x1="164.65" y1="255.9" x2="164.65" y2="257.5" stroke="#666" stroke-width="0.7"/>
<line x1="167.09" y1="255.9" x2="167.09" y2="257.5" stroke="#666" stroke-width="0.7"/>
<line x1="169.51" y1="255.9" x2="169.51" y2="257.5" stroke="#666" stroke-width="0.7"/>
<line x1="171.91" y1="255.9" x2="171.91" y2="257.5" stroke="#666" stroke-width="0.7"/>
<line x1="174.29" y1="255.9" x2="174.29" y2="257.5" stroke="#666" stroke-width="0.7"/>
<line x1="176.66" y1="255.9" x2="176.66" y2="257.5" stroke="#666" stroke-width="0.7"/>
<line x1="179.01" y1="255.9" x2="179.01" y2="257.5" stroke="#666" stroke-width="0.7"/>
<line x1="181.34" y1="255.9" x2="181.34" y2="257.5" stroke="#666" stroke-width="0.7"/>
<line x1="183.65" y1="255.9" x2="183.65" y2="257.5" stroke="#666" stroke-width="0.7"/>
<line x1="185.94" y1="255.9" x2="185.94" y2="257.5" stroke="#666" stroke-width="0.7"/>
<line x1="188.22" y1="255.9" x2="188.22" y2="257.5" stroke="#666" stroke-width="0.7"/>
<line x1="190.48" y1="255.9" x2="190.48" y2="257.5" stroke="#666" stroke-width="0.7"/>
<line x1="192.72" y1="255.9" x2="192.72" y2="257.5" stroke="#666" stroke-width="0.7"/>
<line x1="194.95" y1="255.9" x2="194.95" y2="257.5" stroke="#666" stroke-width="0.7"/>
<line x1="197.16" y1="255.9" x2="197.16" y2="257.5" stroke="#666" stroke-width="0.7"/>
<line x1="199.35" y1="255.9" x2="199.35" y2="257.5" stroke="#666" stroke-width="0.7"/>
<line x1="201.53" y1="255.9" x2="201.53" y2="257.5" stroke="#666" stroke-width="0.7"/>
<line x1="203.69" y1="255.9" x2="203.69" y2="257.5" stroke="#666" stroke-width="0.7"/>
<line x1="205.83" y1="255.9" x2="205.83" y2="257.5" stroke="#666" stroke-width="0.7"/>
<line x1="207.95" y1="255.9" x2="207.95" y2="257.5" stroke="#666" stroke-width="0.7"/>
<line x1="210.06" y1="255.9" x2="210.06" y2="257.5" stroke="#666" stroke-width="0.7"/>
<line x1="212.16" y1="255.9" x2="212.16" y2="257.5" stroke="#666" stroke-width="0.7"/>
<line x1="214.24" y1="255.9" x2="214.24" y2="257.5" stroke="#666" stroke-width="0.7"/>
<line x1="216.3" y1="255.9" x2="216.3" y2="257.5" stroke="#666" stroke-width="0.7"/>
<line x1="218.34" y1="255.9" x2="218.34" y2="257.5" stroke="#666" stroke-width="0.7"/>
<line x1="220.38" y1="255.9" x2="220.38" y2="257.5" stroke="#666" stroke-width="0.7"/>
<line x1="222.39" y1="255.9" x2="222.39" y2="257.5" stroke="#666" stroke-width="0.7"/>
<line x1="224.39" y1="255.9" x2="224.39" y2="257.5" stroke="#666" stroke-width="0.7"/>
<line x1="226.38" y1="255.9" x2="226.38" y2="257.5" stroke="#666" stroke-width="0.7"/>
<line x1="228.35" y1="255.9" x2="228.35" y2="257.5" stroke="#666" stroke-width="0.7"/>
<line x1="230.3" y1="255.9" x2="230.3" y2="257.5" stroke="#666" stroke-width="0.7"/>
<line x1="232.24" y1="255.9" x2="232.24" y2="257.5" stroke="#666" stroke-width="0.7"/>
<line x1="234.17" y1="255.9" x2="234.17" y2="257.5" stroke="#666" stroke-width="0.7"/>
<line x1="236.08" y1="255.9" x2="236.08" y2="257.5" stroke="#666" stroke-width="0.7"/>
<line x1="237.97" y1="255.9" x2="237.97" y2="257.5" stroke="#666" stroke-width="0.7"/>
<line x1="239.86" y1="255.9" x2="239.86" y2="257.5" stroke="#666" stroke-width="0.7"/>
<line x1="241.72" y1="255.9" x2="241.72" y2="257.5" stroke="#666" stroke-width="0.7"/>
<line x1="243.58" y1="255.9" x2="243.58" y2="257.5" stroke="#666" stroke-width="0.7"/>
<line x1="245.42" y1="255.9" x2="245.42" y2="257.5" stroke="#666" stroke-width="0.7"/>
<line x1="247.24" y1="255.9" x2="247.24" y2="257.5" stroke="#666" stroke-width="0.7"/>
<line x1="249.05" y1="255.9" x2="249.05" y2="257.5" stroke="#666" stroke-width="0.7"/>
<line x1="250.85" y1="255.9" x2="250.85" y2="257.5" stroke="#666" stroke-width="0.7"/>
<line x1="252.63" y1="255.9" x2="252.63" y2="257.5" stroke="#666" stroke-width="0.7"/>
<line x1="254.4" y1="255.9" x2="254.4" y2="257.5" stroke="#666" stroke-width="0.7"/>
<line x1="256.16" y1="255.9" x2="256.16" y2="257.5" stroke="#666" stroke-width="0.7"/>
<line x1="257.9" y1="255.9" x2="257.9" y2="257.5" stroke="#666" stroke-width="0.7"/>
<line x1="259.63" y1="255.9" x2="259.63" y2="257.5" stroke="#666" stroke-width="0.7"/>
<line x1="261.35" y1="255.9" x2="261.35" y2="257.5" stroke="#666" stroke-width="0.7"/>
<line x1="263.06" y1="255.9" x2="263.06" y2="257.5" stroke="#666" stroke-width="0.7"/>
<line x1="264.75" y1="255.9" x2="264.75" y2="257.5" stroke="#666" stroke-width="0.7"/>
<line x1="266.43" y1="255.9" x2="266.43" y2="257.5" stroke="#666" stroke-width="0.7"/>
<line x1="268.09" y1="255.9" x2="268.09" y2="257.5" stroke="#666" stroke-width="0.7"/>
<line x1="269.74" y1="255.9" x2="269.74" y2="257.5" stroke="#666" stroke-width="0.7"/>
<line x1="271.38" y1="255.9" x2="271.38" y2="257.5" stroke="#666" stroke-width="0.7"/>
<line x1="273.01" y1="255.9" x2="273.01" y2="257.5" stroke="#666" stroke-width="0.7"/>
<line x1="274.63" y1="255.9" x2="274.63" y2="257.5" stroke="#666" stroke-width="0.7"/>
<line x1="276.23" y1="255.9" x2="276.23" y2="257.5" stroke="#666" stroke-width="0.7"/>
<line x1="277.82" y1="255.9" x2="277.82" y2="257.5" stroke="#666" stroke-width="0.7"/>
<line x1="279.4" y1="255.9" x2="279.4" y2="257.5" stroke="#666" stroke-width="0.7"/>
<line x1="280.97" y1="255.9" x2="280.97" y2="257.5" stroke="#666" stroke-width="0.7"/>
<line x1="282.52" y1="255.9" x2="282.52" y2="257.5" stroke="#666" stroke-width="0.7"/>
<line x1="284.07" y1="255.9" x2="284.07" y2="257.5" stroke="#666" stroke-width="0.7"/>
<line x1="285.6" y1="255.9" x2="285.6" y2="257.5" stroke="#666" stroke-width="0.7"/>
<line x1="287.12" y1="255.9" x2="287.12" y2="257.5" stroke="#666" stroke-width="0.7"/>
<line x1="288.63" y1="255.9" x2="288.63" y2="257.5" stroke="#666" stroke-width="0.7"/>
<line x1="290.12" y1="255.9" x2="290.12" y2="257.5" stroke="#666" stroke-width="0.7"/>
<line x1="291.61" y1="255.9" x2="291.61" y2="257.5" stroke="#666" stroke-width="0.7"/>
<line x1="293.08" y1="255.9" x2="293.08" y2="257.5" stroke="#666" stroke-width="0.7"/>
<line x1="294.55" y1="255.9" x2="294.55" y2="257.5" stroke="#666" stroke-width="0.7"/>
<line x1="296" y1="255.9" x2="296" y2="257.5" stroke="#666" stroke-width="0.7"/>
<line x1="297.44" y1="255.9" x2="297.44" y2="257.5" stroke="#666" stroke-width="0.7"/>
<line x1="298.87" y1="255.9" x2="298.87" y2="257.5" stroke="#666" stroke-width="0.7"/>
<line x1="300.29" y1="255.9" x2="300.29" y2="257.5" stroke="#666" stroke-width="0.7"/>
<line x1="301.69" y1="255.9" x2="301.69" y2="257.5" stroke="#666" stroke-width="0.7"/>
<line x1="303.09" y1="255.9" x2="303.09" y2="257.5" stroke="#666" stroke-width="0.7"/>
<line x1="304.48" y1="255.9" x2="304.48" y2="257.5" stroke="#666" stroke-width="0.7"/>
<line x1="305.86" y1="255.9" x2="305.86" y2="257.5" stroke="#666" stroke-width="0.7"/>
<line x1="307.22" y1="255.9" x2="307.22" y2="257.5" stroke="#666" stroke-width="0.7"/>
<line x1="308.58" y1="255.9" x2="308.58" y2="257.5" stroke="#666" stroke-width="0.7"/>
<line x1="309.92" y1="255.9" x2="309.92" y2="257.5" stroke="#666" stroke-width="0.7"/>
<line x1="311.26" y1="255.9" x2="311.26" y2="257.5" stroke="#666" stroke-width="0.7"/>
<line x1="312.58" y1="255.9" x2="312.58" y2="257.5" stroke="#666" stroke-width="0.7"/>
<line x1="313.9" y1="255.9" x2="313.9" y2="257.5" stroke="#666" stroke-width="0.7"/>
<line x1="315.2" y1="255.9" x2="315.2" y2="257.5" stroke="#666" stroke-width="0.7"/>
<line x1="316.5" y1="255.9" x2="316.5" y2="257.5" stroke="#666" stroke-width="0.7"/>
<line x1="317.78" y1="255.9" x2="317.78" y2="257.5" stroke="#666" stroke-width="0.7"/>
<line x1="319.06" y1="255.9" x2="319.06" y2="257.5" stroke="#666" stroke-width="0.7"/>
<line x1="320.32" y1="255.9" x2="320.32" y2="257.5" stroke="#666" stroke-width="0.7"/>
<line x1="321.58" y1="255.9" x2="321.58" y2="257.5" stroke="#666" stroke-width="0.7"/>
<line x1="322.82" y1="255.9" x2="322.82" y2="257.5" stroke="#666" stroke-width="0.7"/>
<line x1="324.06" y1="255.9" x2="324.06" y2="257.5" stroke="#666" stroke-width="0.7"/>
<line x1="325.29" y1="255.9" x2="325.29" y2="257.5" stroke="#666" stroke-width="0.7"/>
<line x1="326.51" y1="255.9" x2="326.51" y2="257.5" stroke="#666" stroke-width="0.7"/>
<line x1="327.72" y1="255.9" x2="327.72" y2="257.5" stroke="#666" stroke-width="0.7"/>
<line x1="328.92" y1="255.9" x2="328.92" y2="257.5" stroke="#666" stroke-width="0.7"/>
<line x1="330.11" y1="255.9" x2="330.11" y2="257.5" stroke="#666" stroke-width="0.7"/>
<line x1="331.29" y1="255.9" x2="331.29" y2="257.5" stroke="#666" stroke-width="0.7"/>
<line x1="332.46" y1="255.9" x2="332.46" y2="257.5" stroke="#666" stroke-width="0.7"/>
<line x1="333.62" y1="255.9" x2="333.62" y2="257.5" stroke="#666" stroke-width="0.7"/>
<line x1="334.78" y1="255.9" x2="334.78" y2="257.5" stroke="#666" stroke-width="0.7"/>
<line x1="335.93" y1="255.9" x2="335.93" y2="257.5" stroke="#666" stroke-width="0.7"/>
<line x1="337.06" y1="255.9" x2="337.06" y2="257.5" stroke="#666" stroke-width="0.7"/>
<line x1="338.19" y1="255.9" x2="338.19" y2="257.5" stroke="#666" stroke-width="0.7"/>
<line x1="339.31" y1="255.9" x2="339.31" y2="257.5" stroke="#666" stroke-width="0.7"/>
<line x1="340.42" y1="255.9" x2="340.42" y2="257.5" stroke="#666" stroke-width="0.7"/>
<line x1="341.53" y1="255.9" x2="341.53" y2="257.5" stroke="#666" stroke-width="0.7"/>
<line x1="342.62" y1="255.9" x2="342.62" y2="257.5" stroke="#666" stroke-width="0.7"/>
<line x1="343.71" y1="255.9" x2="343.71" y2="257.5" stroke="#666" stroke-width="0.7"/>
<line x1="344.79" y1="255.9" x2="344.79" y2="257.5" stroke="#666" stroke-width="0.7"/>
<line x1="345.86" y1="255.9" x2="345.86" y2="257.5" stroke="#666" stroke-width="0.7"/>
<line x1="346.92" y1="255.9" x2="346.92" y2="257.5" stroke="#666" stroke-width="0.7"/>
<line x1="347.97" y1="255.9" x2="347.97" y2="257.5" stroke="#666" stroke-width="0.7"/>
<line x1="349.02" y1="255.9" x2="349.02" y2="257.5" stroke="#666" stroke-width="0.7"/>
<line x1="350.06" y1="255.9" x2="350.06" y2="257.5" stroke="#666" stroke-width="0.7"/>
<line x1="351.09" y1="255.9" x2="351.09" y2="257.5" stroke="#666" stroke-width="0.7"/>
<line x1="352.11" y1="255.9" x2="352.11" y2="257.5" stroke="#666" stroke-width="0.7"/>
<line x1="353.12" y1="255.9" x2="353.12" y2="257.5" stroke="#666" stroke-width="0.7"/>
<line x1="354.13" y1="255.9" x2="354.13" y2="257.5" stroke="#666" stroke-width="0.7"/>
<line x1="355.13" y1="255.9" x2="355.13" y2="257.5" stroke="#666" stroke-width="0.7"/>
<line x1="356.12" y1="255.9" x2="356.12" y2="257.5" stroke="#666" stroke-width="0.7"/>
<line x1="357.1" y1="255.9" x2="357.1" y2="257.5" stroke="#666" stroke-width="0.7"/>
<line x1="358.08" y1="255.9" x2="358.08" y2="257.5" stroke="#666" stroke-width="0.7"/>
<line x1="359.05" y1="255.9" x2="359.05" y2="257.5" stroke="#666" stroke-width="0.7"/>
<line x1="360.01" y1="255.9" x2="360.01" y2="257.5" stroke="#666" stroke-width="0.7"/>
<line x1="360.96" y1="255.9" x2="360.96" y2="257.5" stroke="#666" stroke-width="0.7"/>
<line x1="361.91" y1="255.9" x2="361.91" y2="257.5" stroke="#666" stroke-width="0.7"/>
<line x1="362.85" y1="255.9" x2="362.85" y2="257.5" stroke="#666" stroke-width="0.7"/>
<line x1="363.78" y1="255.9" x2="363.78" y2="257.5" stroke="#666" stroke-width="0.7"/>
<line x1="364.71" y1="255.9" x2="364.71" y2="257.5" stroke="#666" stroke-width="0.7"/>
<line x1="365.63" y1="255.9" x2="365.63" y2="257.5" stroke="#666" stroke-width="0.7"/>
<line x1="366.54" y1="255.9" x2="366.54" y2="257.5" stroke="#666" stroke-width="0.7"/>
<line x1="367.44" y1="255.9" x2="367.44" y2="257.5" stroke="#666" stroke-width="0.7"/>
<line x1="368.34" y1="255.9" x2="368.34" y2="257.5" stroke="#666" stroke-width="0.7"/>
<line x1="369.23" y1="255.9" x2="369.23" y2="257.5" stroke="#666" stroke-width="0.7"/>
<line x1="370.12" y1="255.9" x2="370.12" y2="257.5" stroke="#666" stroke-width="0.7"/>
<line x1="371" y1="255.9" x2="371" y2="257.5" stroke="#666" stroke-width="0.7"/>
<line x1="371.87" y1="255.9" x2="371.87" y2="257.5" stroke="#666" stroke-width="0.7"/>
<line x1="372.73" y1="255.9" x2="372.73" y2="257.5" stroke="#666" stroke-width="0.7"/>
<line x1="373.59" y1="255.9" x2="373.59" y2="257.5" stroke="#666" stroke-width="0.7"/>
<line x1="374.44" y1="255.9" x2="374.44" y2="257.5" stroke="#666" stroke-width="0.7"/>
<line x1="375.28" y1="255.9" x2="375.28" y2="257.5" stroke="#666" stroke-width="0.7"/>
<line x1="376.12" y1="255.9" x2="376.12" y2="257.5" stroke="#666" stroke-width="0.7"/>
<line x1="376.95" y1="255.9" x2="376.95" y2="257.5" stroke="#666" stroke-width="0.7"/>
<line x1="377.78" y1="255.9" x2="377.78" y2="257.5" stroke="#666" stroke-width="0.7"/>
<line x1="378.6" y1="255.9" x2="378.6" y2="257.5" stroke="#666" stroke-width="0.7"/>
<line x1="379.41" y1="255.9" x2="379.41" y2="257.5" stroke="#666" stroke-width="0.7"/>
<line x1="380.22" y1="255.9" x2="380.22" y2="257.5" stroke="#666" stroke-width="0.7"/>
<line x1="381.02" y1="255.9" x2="381.02" y2="257.5" stroke="#666" stroke-width="0.7"/>
<line x1="381.81" y1="255.9" x2="381.81" y2="257.5" stroke="#666" stroke-width="0.7"/>
<line x1="382.6" y1="255.9" x2="382.6" y2="257.5" stroke="#666" stroke-width="0.7"/>
<linearGradient id="og" x1="0" x2="1" y1="0" y2="0"><stop offset="0" stop-color="#111" stop-opacity="0"/><stop offset="0.6" stop-color="#111" stop-opacity="0.6"/><stop offset="1" stop-color="#111" stop-opacity="1"/></linearGradient>
<polygon points="270,255.4 382.8,255.3 382.8,257.6 270,256.6" fill="url(#og)"/>
<text fill="#000" font-size="15" transform="translate(420.9 11) scale(1 1.04)">B</text>
<rect x="470.5" y="13.0" width="213.8" height="213.5" fill="none" stroke="#222" stroke-width="1"/>
<line x1="470.5" y1="226.4" x2="684.1" y2="12.8" stroke="#a8a8a8" stroke-width="0.9"/>
<line x1="464.6" y1="218.5" x2="471" y2="218.5" stroke="#1a1a1a" stroke-width="1"/>
<text text-anchor="middle" font-size="9.5" transform="translate(456.7 218.5) rotate(-90) scale(1 1.04)">0.0</text>
<line x1="676.5" y1="226.4" x2="676.5" y2="232.4" stroke="#1a1a1a" stroke-width="1"/>
<text text-anchor="middle" font-size="9.5" transform="translate(676.5 247.2) scale(1 1.04)">0.0</text>
<line x1="464.6" y1="179" x2="471" y2="179" stroke="#1a1a1a" stroke-width="1"/>
<text text-anchor="middle" font-size="9.5" transform="translate(456.7 179) rotate(-90) scale(1 1.04)">0.2</text>
<line x1="636.92" y1="226.4" x2="636.92" y2="232.4" stroke="#1a1a1a" stroke-width="1"/>
<text text-anchor="middle" font-size="9.5" transform="translate(636.92 247.2) scale(1 1.04)">0.2</text>
<line x1="464.6" y1="139.5" x2="471" y2="139.5" stroke="#1a1a1a" stroke-width="1"/>
<text text-anchor="middle" font-size="9.5" transform="translate(456.7 139.5) rotate(-90) scale(1 1.04)">0.4</text>
<line x1="597.34" y1="226.4" x2="597.34" y2="232.4" stroke="#1a1a1a" stroke-width="1"/>
<text text-anchor="middle" font-size="9.5" transform="translate(597.34 247.2) scale(1 1.04)">0.4</text>
<line x1="464.6" y1="100" x2="471" y2="100" stroke="#1a1a1a" stroke-width="1"/>
<text text-anchor="middle" font-size="9.5" transform="translate(456.7 100) rotate(-90) scale(1 1.04)">0.6</text>
<line x1="557.76" y1="226.4" x2="557.76" y2="232.4" stroke="#1a1a1a" stroke-width="1"/>
<text text-anchor="middle" font-size="9.5" transform="translate(557.76 247.2) scale(1 1.04)">0.6</text>
<line x1="464.6" y1="60.5" x2="471" y2="60.5" stroke="#1a1a1a" stroke-width="1"/>
<text text-anchor="middle" font-size="9.5" transform="translate(456.7 60.5) rotate(-90) scale(1 1.04)">0.8</text>
<line x1="518.18" y1="226.4" x2="518.18" y2="232.4" stroke="#1a1a1a" stroke-width="1"/>
<text text-anchor="middle" font-size="9.5" transform="translate(518.18 247.2) scale(1 1.04)">0.8</text>
<line x1="464.6" y1="21" x2="471" y2="21" stroke="#1a1a1a" stroke-width="1"/>
<text text-anchor="middle" font-size="9.5" transform="translate(456.7 21) rotate(-90) scale(1 1.04)">1.0</text>
<line x1="478.6" y1="226.4" x2="478.6" y2="232.4" stroke="#1a1a1a" stroke-width="1"/>
<text text-anchor="middle" font-size="9.5" transform="translate(478.6 247.2) scale(1 1.04)">1.0</text>
<polyline points="478.6,218.5 478.6,21.0 676.5,21.0" fill="none" stroke="#4a84c4" stroke-width="1.4"/>
<line x1="591.8" y1="199.5" x2="609.5" y2="199.5" stroke="#e45a5a" stroke-width="1"/>
<line x1="591.8" y1="212.6" x2="609.5" y2="212.6" stroke="#a9c6e2" stroke-width="1.2"/>
<text font-size="9.5" transform="translate(617.6 203.2) scale(1 1.04)">Myopia: 1</text>
<text font-size="9.5" transform="translate(617.6 216.2) scale(1 1.04)">GSE136701: 1</text>
<text text-anchor="middle" font-size="9.5" transform="translate(441.2 119.5) rotate(-90) scale(1 1.04)">Sensitivity</text>
<text text-anchor="middle" font-size="9.5" transform="translate(577.5 263.6) scale(1 1.04)">Specificity</text>
<text fill="#000" font-size="15" transform="translate(0.3 291) scale(1 1.04)">C</text>
<rect x="55.5" y="292.5" width="204.6" height="171.8" fill="none" stroke="#333" stroke-width="1"/>
<line x1="49.6" y1="458" x2="55.5" y2="458" stroke="#333" stroke-width="1"/>
<text text-anchor="middle" font-size="9" transform="translate(42.4 458) rotate(-90) scale(1 1.04)">0.0</text>
<line x1="62.5" y1="464" x2="62.5" y2="470" stroke="#333" stroke-width="1"/>
<text text-anchor="middle" font-size="9" transform="translate(62.5 484.2) scale(1 1.04)">0.0</text>
<line x1="49.6" y1="426.1" x2="55.5" y2="426.1" stroke="#333" stroke-width="1"/>
<text text-anchor="middle" font-size="9" transform="translate(42.4 426.1) rotate(-90) scale(1 1.04)">0.2</text>
<line x1="100.5" y1="464" x2="100.5" y2="470" stroke="#333" stroke-width="1"/>
<text text-anchor="middle" font-size="9" transform="translate(100.5 484.2) scale(1 1.04)">0.2</text>
<line x1="49.6" y1="394.2" x2="55.5" y2="394.2" stroke="#333" stroke-width="1"/>
<text text-anchor="middle" font-size="9" transform="translate(42.4 394.2) rotate(-90) scale(1 1.04)">0.4</text>
<line x1="138.5" y1="464" x2="138.5" y2="470" stroke="#333" stroke-width="1"/>
<text text-anchor="middle" font-size="9" transform="translate(138.5 484.2) scale(1 1.04)">0.4</text>
<line x1="49.6" y1="362.3" x2="55.5" y2="362.3" stroke="#333" stroke-width="1"/>
<text text-anchor="middle" font-size="9" transform="translate(42.4 362.3) rotate(-90) scale(1 1.04)">0.6</text>
<line x1="176.5" y1="464" x2="176.5" y2="470" stroke="#333" stroke-width="1"/>
<text text-anchor="middle" font-size="9" transform="translate(176.5 484.2) scale(1 1.04)">0.6</text>
<line x1="49.6" y1="330.4" x2="55.5" y2="330.4" stroke="#333" stroke-width="1"/>
<text text-anchor="middle" font-size="9" transform="translate(42.4 330.4) rotate(-90) scale(1 1.04)">0.8</text>
<line x1="214.5" y1="464" x2="214.5" y2="470" stroke="#333" stroke-width="1"/>
<text text-anchor="middle" font-size="9" transform="translate(214.5 484.2) scale(1 1.04)">0.8</text>
<line x1="49.6" y1="298.5" x2="55.5" y2="298.5" stroke="#333" stroke-width="1"/>
<text text-anchor="middle" font-size="9" transform="translate(42.4 298.5) rotate(-90) scale(1 1.04)">1.0</text>
<line x1="252.5" y1="464" x2="252.5" y2="470" stroke="#333" stroke-width="1"/>
<text text-anchor="middle" font-size="9" transform="translate(252.5 484.2) scale(1 1.04)">1.0</text>
<line x1="62.5" y1="292.5" x2="62.5" y2="295.6" stroke="#999" stroke-width="0.8"/>
<line x1="251.6" y1="292.5" x2="251.6" y2="295.6" stroke="#999" stroke-width="0.8"/>
<line x1="59.1" y1="460.7" x2="60.7" y2="459.4" stroke="#333" stroke-width="0.9"/>
<line x1="255" y1="296.7" x2="256.7" y2="295.1" stroke="#333" stroke-width="0.9"/>
<line x1="62.5" y1="458" x2="252.5" y2="298.5" stroke="#333" stroke-width="1.15"/>
<line x1="175" y1="417.4" x2="192" y2="417.4" stroke="#c8c8c8" stroke-width="0.8" stroke-dasharray="1,1.5"/>
<line x1="175" y1="428.4" x2="192" y2="428.4" stroke="#333" stroke-width="1"/>
<line x1="175" y1="439.4" x2="192" y2="439.4" stroke="#333" stroke-width="0.9" stroke-dasharray="2.5,2"/>
<clipPath id="cclip"><rect x="0" y="0" width="260.0" height="516"/></clipPath>
<g clip-path="url(#cclip)">
<text font-size="9.05" transform="translate(200 421.2) scale(1 1.04)">Apparent</text>
<text font-size="9.2" transform="translate(200 432.2) scale(1 1.04)">Bias−corrected</text>
<text font-size="9.05" transform="translate(200 442.8) scale(1 1.04)">Ideal</text>
</g>
<text text-anchor="middle" font-size="9.2" transform="translate(20.6 377.5) rotate(-90) scale(1 1.04)">Observed Probability</text>
<text text-anchor="middle" font-size="9.2" transform="translate(157.9 499.6) scale(1 1.04)">Predicted Probability</text>
<text font-size="9.2" transform="translate(29.6 512.1) scale(1 1.04)">B= 100 repetitions, boot</text>
<text font-size="9.2" transform="translate(153.2 511.5) scale(1 1.04)">Mean absolute error=0 n=17</text>
<text fill="#000" font-size="15" transform="translate(296.6 291) scale(1 1.04)">D</text>
<line x1="370.4" y1="296" x2="370.4" y2="421.5" stroke="#ececec" stroke-width="0.9"/>
<line x1="430.14" y1="296" x2="430.14" y2="421.5" stroke="#ececec" stroke-width="0.9"/>
<line x1="489.88" y1="296" x2="489.88" y2="421.5" stroke="#ececec" stroke-width="0.9"/>
<line x1="549.62" y1="296" x2="549.62" y2="421.5" stroke="#ececec" stroke-width="0.9"/>
<line x1="609.36" y1="296" x2="609.36" y2="421.5" stroke="#ececec" stroke-width="0.9"/>
<line x1="669.1" y1="296" x2="669.1" y2="421.5" stroke="#ececec" stroke-width="0.9"/>
<line x1="358" y1="408.6" x2="681.4" y2="408.6" stroke="#ececec" stroke-width="0.9"/>
<line x1="358" y1="391.93" x2="681.4" y2="391.93" stroke="#ececec" stroke-width="0.9"/>
<line x1="358" y1="375.26" x2="681.4" y2="375.26" stroke="#ececec" stroke-width="0.9"/>
<line x1="358" y1="358.59" x2="681.4" y2="358.59" stroke="#ececec" stroke-width="0.9"/>
<line x1="358" y1="341.92" x2="681.4" y2="341.92" stroke="#ececec" stroke-width="0.9"/>
<line x1="358" y1="325.25" x2="681.4" y2="325.25" stroke="#ececec" stroke-width="0.9"/>
<line x1="358" y1="308.58" x2="681.4" y2="308.58" stroke="#ececec" stroke-width="0.9"/>
<line x1="358.5" y1="308.28" x2="358.5" y2="408.9" stroke="#555" stroke-width="1"/>
<line x1="351.2" y1="408.6" x2="358.5" y2="408.6" stroke="#555" stroke-width="1"/>
<line x1="351.2" y1="391.93" x2="358.5" y2="391.93" stroke="#555" stroke-width="1"/>
<line x1="351.2" y1="375.26" x2="358.5" y2="375.26" stroke="#555" stroke-width="1"/>
<line x1="351.2" y1="358.59" x2="358.5" y2="358.59" stroke="#555" stroke-width="1"/>
<line x1="351.2" y1="341.92" x2="358.5" y2="341.92" stroke="#555" stroke-width="1"/>
<line x1="351.2" y1="325.25" x2="358.5" y2="325.25" stroke="#555" stroke-width="1"/>
<line x1="351.2" y1="308.58" x2="358.5" y2="308.58" stroke="#555" stroke-width="1"/>
<text text-anchor="middle" font-size="9.4" transform="translate(342.2 410.2) rotate(-90) scale(1 1.04)">0.0</text>
<text text-anchor="middle" font-size="9.4" transform="translate(342.2 376.86) rotate(-90) scale(1 1.04)">0.2</text>
<text text-anchor="middle" font-size="9.4" transform="translate(342.2 343.52) rotate(-90) scale(1 1.04)">0.4</text>
<text text-anchor="middle" font-size="9.4" transform="translate(342.2 310.18) rotate(-90) scale(1 1.04)">0.6</text>
<line x1="369.9" y1="422" x2="669.6" y2="422" stroke="#444" stroke-width="1"/>
<line x1="370.4" y1="421.5" x2="370.4" y2="428.5" stroke="#444" stroke-width="1"/>
<text text-anchor="middle" font-size="9.2" transform="translate(368.8 446.1) scale(1 1.04)">0.0</text>
<line x1="430.14" y1="421.5" x2="430.14" y2="428.5" stroke="#444" stroke-width="1"/>
<text text-anchor="middle" font-size="9.2" transform="translate(428.54 446.1) scale(1 1.04)">0.2</text>
<line x1="489.88" y1="421.5" x2="489.88" y2="428.5" stroke="#444" stroke-width="1"/>
<text text-anchor="middle" font-size="9.2" transform="translate(488.28 446.1) scale(1 1.04)">0.4</text>
<line x1="549.62" y1="421.5" x2="549.62" y2="428.5" stroke="#444" stroke-width="1"/>
<text text-anchor="middle" font-size="9.2" transform="translate(548.02 446.1) scale(1 1.04)">0.6</text>
<line x1="609.36" y1="421.5" x2="609.36" y2="428.5" stroke="#444" stroke-width="1"/>
<text text-anchor="middle" font-size="9.2" transform="translate(607.76 446.1) scale(1 1.04)">0.8</text>
<line x1="669.1" y1="421.5" x2="669.1" y2="428.5" stroke="#444" stroke-width="1"/>
<text text-anchor="middle" font-size="9.2" transform="translate(667.5 446.1) scale(1 1.04)">1.0</text>
<clipPath id="dclip"><rect x="358" y="296" width="323.4" height="125.5"/></clipPath>
<polyline clip-path="url(#dclip)" points="370.4,310.54 371.04,310.69 371.68,310.84 372.32,310.98 372.96,311.13 373.6,311.28 374.24,311.43 374.88,311.59 375.51,311.74 376.15,311.89 376.79,312.04 377.43,312.2 378.07,312.35 378.71,312.51 379.35,312.66 379.99,312.82 380.63,312.98 381.27,313.13 381.91,313.29 382.55,313.45 383.19,313.61 383.83,313.77 384.47,313.93 385.11,314.1 385.74,314.26 386.38,314.42 387.02,314.59 387.66,314.75 388.3,314.92 388.94,315.08 389.58,315.25 390.22,315.42 390.86,315.59 391.5,315.76 392.14,315.93 392.78,316.1 393.42,316.27 394.06,316.44 394.7,316.62 395.33,316.79 395.97,316.97 396.61,317.14 397.25,317.32 397.89,317.5 398.53,317.68 399.17,317.86 399.81,318.04 400.45,318.22 401.09,318.4 401.73,318.58 402.37,318.77 403.01,318.95 403.65,319.14 404.29,319.32 404.93,319.51 405.56,319.7 406.2,319.89 406.84,320.08 407.48,320.27 408.12,320.46 408.76,320.66 409.4,320.85 410.04,321.04 410.68,321.24 411.32,321.44 411.96,321.63 412.6,321.83 413.24,322.03 413.88,322.23 414.52,322.44 415.16,322.64 415.79,322.84 416.43,323.05 417.07,323.25 417.71,323.46 418.35,323.67 418.99,323.88 419.63,324.09 420.27,324.3 420.91,324.51 421.55,324.72 422.19,324.94 422.83,325.15 423.47,325.37 424.11,325.59 424.75,325.81 425.38,326.03 426.02,326.25 426.66,326.47 427.3,326.69 427.94,326.92 428.58,327.15 429.22,327.37 429.86,327.6 430.5,327.83 431.14,328.06 431.78,328.29 432.42,328.53 433.06,328.76 433.7,329 434.34,329.23 434.98,329.47 435.61,329.71 436.25,329.95 436.89,330.2 437.53,330.44 438.17,330.69 438.81,330.93 439.45,331.18 440.09,331.43 440.73,331.68 441.37,331.93 442.01,332.19 442.65,332.44 443.29,332.7 443.93,332.95 444.57,333.21 445.2,333.47 445.84,333.74 446.48,334 447.12,334.27 447.76,334.53 448.4,334.8 449.04,335.07 449.68,335.34 450.32,335.62 450.96,335.89 451.6,336.17 452.24,336.44 452.88,336.72 453.52,337.01 454.16,337.29 454.8,337.57 455.43,337.86 456.07,338.15 456.71,338.44 457.35,338.73 457.99,339.02 458.63,339.32 459.27,339.61 459.91,339.91 460.55,340.21 461.19,340.51 461.83,340.82 462.47,341.13 463.11,341.43 463.75,341.74 464.39,342.05 465.02,342.37 465.66,342.68 466.3,343 466.94,343.32 467.58,343.64 468.22,343.97 468.86,344.29 469.5,344.62 470.14,344.95 470.78,345.28 471.42,345.62 472.06,345.95 472.7,346.29 473.34,346.63 473.98,346.98 474.62,347.32 475.25,347.67 475.89,348.02 476.53,348.37 477.17,348.73 477.81,349.08 478.45,349.44 479.09,349.81 479.73,350.17 480.37,350.54 481.01,350.91 481.65,351.28 482.29,351.65 482.93,352.03 483.57,352.41 484.21,352.79 484.85,353.18 485.48,353.56 486.12,353.95 486.76,354.35 487.4,354.74 488.04,355.14 488.68,355.54 489.32,355.95 489.96,356.35 490.6,356.76 491.24,357.18 491.88,357.59 492.52,358.01 493.16,358.43 493.8,358.86 494.44,359.29 495.07,359.72 495.71,360.15 496.35,360.59 496.99,361.03 497.63,361.47 498.27,361.92 498.91,362.37 499.55,362.83 500.19,363.28 500.83,363.75 501.47,364.21 502.11,364.68 502.75,365.15 503.39,365.63 504.03,366.11 504.67,366.59 505.3,367.08 505.94,367.57 506.58,368.06 507.22,368.56 507.86,369.06 508.5,369.57 509.14,370.08 509.78,370.59 510.42,371.11 511.06,371.63 511.7,372.16 512.34,372.69 512.98,373.23 513.62,373.77 514.26,374.31 514.89,374.86 515.53,375.41 516.17,375.97 516.81,376.53 517.45,377.1 518.09,377.67 518.73,378.25 519.37,378.83 520.01,379.42 520.65,380.01 521.29,380.61 521.93,381.21 522.57,381.82 523.21,382.43 523.85,383.05 524.49,383.68 525.12,384.31 525.76,384.94 526.4,385.58 527.04,386.23 527.68,386.88 528.32,387.54 528.96,388.21 529.6,388.88 530.24,389.55 530.88,390.24 531.52,390.92 532.16,391.62 532.8,392.32 533.44,393.03 534.08,393.75 534.71,394.47 535.35,395.2 535.99,395.94 536.63,396.68 537.27,397.43 537.91,398.19 538.55,398.95 539.19,399.73 539.83,400.51 540.47,401.3 541.11,402.09 541.75,402.9 542.39,403.71 543.03,404.53 543.67,405.36 544.31,406.19 544.94,407.04 545.58,407.9 546.22,408.76 546.86,409.63 547.5,410.51 548.14,411.41 548.78,412.31 549.42,413.22 550.06,414.14 550.7,415.07 551.34,416.01 551.98,416.96 552.62,417.92 553.26,418.89 553.9,419.87 554.54,420.87 555.17,421.87 555.81,422.89 556.45,423.91 557.09,424.95 557.73,426 558.37,427.07 559.01,428.14 559.65,429.23 560.29,430.33 560.93,431.44 561.57,432.57" fill="none" stroke="#a4a4a4" stroke-width="1"/>
<line x1="370.4" y1="408.9" x2="666.11" y2="408.9" stroke="#5a5a5a" stroke-width="1.1"/>
<line x1="370.4" y1="310.4" x2="669.1" y2="310.4" stroke="#d00a0a" stroke-width="1.5" stroke-linecap="round"/>
<rect x="604.4" y="295.8" width="77.4" height="54.1" rx="1" fill="#fff" stroke="#999" stroke-width="1"/>
<line x1="614.4" y1="309.4" x2="635.7" y2="309.4" stroke="#d00a0a" stroke-width="1.5"/>
<line x1="614.4" y1="323" x2="635.7" y2="323" stroke="#d3d3d3" stroke-width="1.5"/>
<line x1="614.4" y1="336.3" x2="635.7" y2="336.3" stroke="#333" stroke-width="1"/>
<text font-size="9" transform="translate(646 313.7) scale(1 1.04)">Model</text>
<text font-size="9" transform="translate(646 326.9) scale(1 1.04)">All</text>
<text font-size="9" transform="translate(646 340.6) scale(1 1.04)">None</text>
<text text-anchor="middle" font-size="9.05" transform="translate(314.6 363.4) rotate(-90) scale(1 1.04)">Net Benefit</text>
<text text-anchor="middle" font-size="9.2" transform="translate(510.1 462.6) scale(1 1.04)">High Risk Threshold</text>
<line x1="373.39" y1="476.3" x2="666.11" y2="476.3" stroke="#444" stroke-width="1"/>
<line x1="373.39" y1="476.3" x2="373.39" y2="482.5" stroke="#444" stroke-width="1"/>
<text text-anchor="middle" font-size="9.2" transform="translate(371.59 500.6) scale(1 1.04)">1:100</text>
<line x1="430.14" y1="476.3" x2="430.14" y2="482.5" stroke="#444" stroke-width="1"/>
<text text-anchor="middle" font-size="9.2" transform="translate(428.34 500.6) scale(1 1.04)">1:4</text>
<line x1="489.88" y1="476.3" x2="489.88" y2="482.5" stroke="#444" stroke-width="1"/>
<text text-anchor="middle" font-size="9.2" transform="translate(488.08 500.6) scale(1 1.04)">2:3</text>
<line x1="549.62" y1="476.3" x2="549.62" y2="482.5" stroke="#444" stroke-width="1"/>
<text text-anchor="middle" font-size="9.2" transform="translate(547.82 500.6) scale(1 1.04)">3:2</text>
<line x1="609.36" y1="476.3" x2="609.36" y2="482.5" stroke="#444" stroke-width="1"/>
<text text-anchor="middle" font-size="9.2" transform="translate(607.56 500.6) scale(1 1.04)">4:1</text>
<line x1="666.11" y1="476.3" x2="666.11" y2="482.5" stroke="#444" stroke-width="1"/>
<text text-anchor="middle" font-size="9.2" transform="translate(664.31 500.6) scale(1 1.04)">100:1</text>
<text text-anchor="middle" font-size="9.1" transform="translate(511.2 515.1) scale(1 1.04)">Cost:Benefit Ratio</text>
</g>
</svg>
</body></html>
